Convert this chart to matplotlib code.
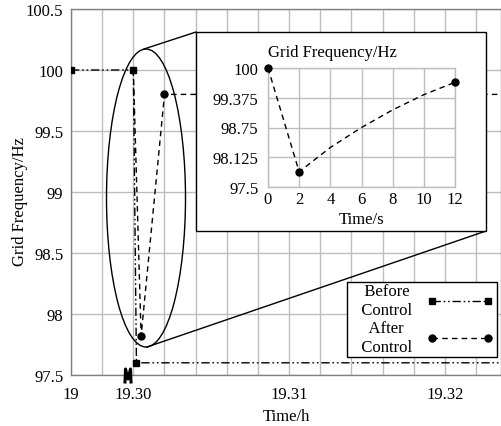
import numpy as np
import matplotlib
matplotlib.use("Agg")
import matplotlib.pyplot as plt
from matplotlib.patches import Ellipse, Rectangle
from matplotlib.lines import Line2D
from matplotlib.legend_handler import HandlerLine2D

plt.rcParams['font.family'] = ['Liberation Serif', 'DejaVu Serif']
plt.rcParams['font.size'] = 12

# ---- data ----
before_t = [19.0, 19.30, 19.3002, 19.33]
before_f = [100.0, 100.0, 97.6, 97.6]
after_t = [19.30, 19.3005, 19.3020, 19.33]
after_f = [100.0, 97.82, 99.80, 99.80]

inset_t = [0, 2, 4, 6, 8, 10, 12]
inset_f = [100.0, 97.82, 98.33, 98.75, 99.12, 99.44, 99.70]

xticks = [19.0, 19.30, 19.31, 19.32]
xticklabels = ["19", "19.30", "19.31", "19.32"]
yticks = [97.5, 98, 98.5, 99, 99.5, 100, 100.5]
yticklabels = ["97.5", "98", "98.5", "99", "99.5", "100", "100.5"]
inset_xticks = [0, 2, 4, 6, 8, 10, 12]
inset_yticks = [97.5, 98.125, 98.75, 99.375, 100]
inset_yticklabels = ["97.5", "98.125", "98.75", "99.375", "100"]
legend_labels = ["Before\nControl", "After\nControl"]

GRID = '#bdbdbd'
SPINE = '#808080'
W, H = 501, 427

fig = plt.figure(figsize=(W / 100, H / 100), dpi=100)
ax = fig.add_axes([71 / W, 51 / H, 430 / W, 366 / H])

# broken x axis: 19 .. 19.30 compressed
BRK = 19.30
K = 0.004 / 0.30


def fwd(x):
    x = np.asarray(x, dtype=float)
    return np.where(x < BRK, BRK - (BRK - x) * K, x)


def inv(u):
    u = np.asarray(u, dtype=float)
    return np.where(u < BRK, BRK - (BRK - u) / K, u)


ax.set_xscale('function', functions=(fwd, inv))
ax.set_xlim(19.0, 19.3236)
ax.set_ylim(97.5, 100.5)

ax.set_xticks(xticks)
ax.set_xticklabels(xticklabels)
ax.set_xticks([19.15] + [19.30 + 0.002 * k for k in range(1, 12)], minor=True)
ax.set_yticks(yticks)
ax.set_yticklabels(yticklabels)
ax.tick_params(which='both', length=0)
ax.tick_params(axis='x', pad=8)
ax.tick_params(axis='y', pad=5.5)
ax.grid(True, which='both', axis='x', color=GRID, lw=1)
ax.grid(True, which='major', axis='y', color=GRID, lw=1)
ax.set_axisbelow(True)
for s in ax.spines.values():
    s.set_color(SPINE)
    s.set_linewidth(1)

ax.set_xlabel("Time/h", labelpad=4)
ax.set_ylabel("Grid Frequency/Hz")
ax.yaxis.set_label_coords(-0.10, 0.477)

ls_before = (0, (6, 2, 1.2, 2, 1.2, 2))
ls_after = (0, (4, 3))

ax.plot(before_t, before_f, color='black', lw=1, ls=ls_before,
        marker='s', ms=5, markevery=[0, 1, 2], zorder=3)
ax.plot(after_t, after_f, color='black', lw=1, ls=ls_after,
        marker='o', ms=5, markevery=[1, 2], zorder=3)


def axf(px, py):
    return ((px - 71) / 430, (376 - py) / 366)


# ellipse highlighting the transition
cx, cy = axf(146, 199)
ax.add_patch(Ellipse((cx, cy), 79 / 430, 298 / 366, transform=ax.transAxes,
                     fill=False, ec='black', lw=1, zorder=4))

# inset frame
x0, y0 = axf(196, 232)
x1, y1 = axf(486, 33)
ax.add_patch(Rectangle((x0, y0), x1 - x0, y1 - y0, transform=ax.transAxes,
                       fc='white', ec='black', lw=1, zorder=5))
# connector lines
for (pa, pb) in [((144, 50), (196, 33)), ((147, 348), (486, 232))]:
    a = axf(*pa)
    b = axf(*pb)
    ax.add_line(Line2D([a[0], b[0]], [a[1], b[1]], transform=ax.transAxes,
                       color='black', lw=1, zorder=4))

# axis break mark
pts = [axf(125, 383), axf(125.5, 370), axf(128, 380), axf(130.5, 370), axf(131, 383)]
ax.add_line(Line2D([p[0] for p in pts], [p[1] for p in pts],
                   transform=ax.transAxes, color='black', lw=2.2,
                   clip_on=False, zorder=6))


# legend
class ShortHandler(HandlerLine2D):
    def get_xdata(self, legend, xdescent, ydescent, width, height, fontsize):
        xd = np.array([-xdescent, -xdescent + width * 0.88])
        return xd, xd


h1 = Line2D([], [], color='black', lw=1, ls=ls_before, marker='s', ms=5)
h2 = Line2D([], [], color='black', lw=1, ls=ls_after, marker='o', ms=5)
lx, ly = axf(497, 358)
pad = "   "
labels = ["\n".join(pad + s for s in lab.split("\n")) for lab in legend_labels]
leg = ax.legend([h1, h2], labels,
                loc='lower right', bbox_to_anchor=(lx, ly), borderaxespad=0,
                markerfirst=False, numpoints=2, handlelength=3.8,
                handletextpad=1.2, labelspacing=0.12, borderpad=0.1,
                fancybox=False, framealpha=1, edgecolor='black',
                handler_map={Line2D: ShortHandler()})
leg.get_frame().set_linewidth(1)
for t in leg.get_texts():
    t.set_multialignment('center')
    t.set_linespacing(1.25)
leg.set_zorder(7)

# inset axes
iax = fig.add_axes([268 / W, (H - 188) / H, (455 - 268) / W, (188 - 69) / H])
iax.set_facecolor('none')
iax.set_xlim(0, 12)
iax.set_ylim(97.5, 100)
iax.set_xticks(inset_xticks)
iax.set_yticks(inset_yticks)
iax.set_yticklabels(inset_yticklabels)
iax.tick_params(length=0)
iax.tick_params(axis='x', pad=3)
iax.tick_params(axis='y', pad=7)
iax.grid(True, color=GRID, lw=1)
for s in iax.spines.values():
    s.set_color(GRID)
    s.set_linewidth(1)
iax.plot(inset_t, inset_f, color='black', lw=1, ls=ls_after,
         marker='o', ms=5, markevery=[0, 1, 6], clip_on=False, zorder=3)
iax.set_title("Grid Frequency/Hz", loc='left', pad=8.5, fontsize=12)
iax.set_xlabel("Time/s", labelpad=3)

fig.savefig("out.png", dpi=100)
